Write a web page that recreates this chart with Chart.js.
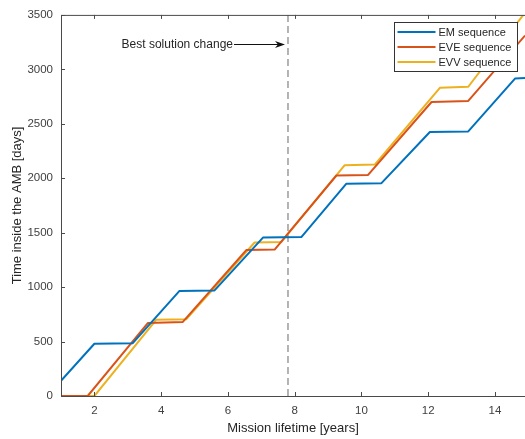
<!DOCTYPE html>
<html>
<head>
<meta charset="utf-8">
<script src="https://cdn.jsdelivr.net/npm/chart.js@4/dist/chart.umd.min.js"></script>
<style>
	body { margin: 0; background: #fff; }
	canvas { display: block; }
</style>
</head>
<body>
<canvas id="my-chart" width="525" height="439"></canvas>
<script>
// DATA
const emYears = [1, 2.0, 3.15, 4.55, 5.6, 7.05, 8.2, 9.55, 10.6, 12.05, 13.2, 14.6, 14.9];
const emDays = [140, 480, 485, 965, 970, 1455, 1460, 1950, 1955, 2425, 2430, 2915, 2920];

const eveYears = [1, 1.8, 3.6, 4.65, 6.55, 7.4, 9.25, 10.2, 12.1, 13.2, 14.9];
const eveDays = [0, 0, 670, 680, 1340, 1345, 2025, 2030, 2700, 2710, 3310];

const evvYears = [1, 2.0, 3.85, 4.75, 6.8, 7.6, 9.5, 10.4, 12.35, 13.2, 14.85];
const evvDays = [0, 0, 700, 705, 1410, 1415, 2120, 2125, 2830, 2840, 3500];

const seriesLabels = ['EM sequence', 'EVE sequence', 'EVV sequence'];
const seriesColors = ['#0072BD', '#D95319', '#EDB120'];

const xTicks = [2, 4, 6, 8, 10, 12, 14];
const yTicks = [0, 500, 1000, 1500, 2000, 2500, 3000, 3500];

const changeYear = 7.8;
const noteText = 'Best solution change';

const FONT = "'Liberation Sans', Arial, sans-serif";

// BUILD POINTS FROM TWO ARRAYS
function toPoints(xs, ys) {
	return xs.map((x, i) => ({ x: x, y: ys[i] }));
}

// DRAW BOX, INWARD TICKS, ANNOTATION AND LEGEND
const axesDecor = {
	id: 'axesDecor',
	afterDatasetsDraw(chart) {
		const ctx = chart.ctx;
		const a = chart.chartArea;
		const x = chart.scales.x;
		const y = chart.scales.y;
		ctx.save();

		// axes lines
		ctx.strokeStyle = '#4a4a4a';
		ctx.lineWidth = 1;
		ctx.beginPath();
		ctx.moveTo(a.left + 0.5, a.top + 0.5);
		ctx.lineTo(a.right, a.top + 0.5);
		ctx.moveTo(a.left + 0.5, a.top);
		ctx.lineTo(a.left + 0.5, a.bottom + 0.5);
		ctx.lineTo(a.right, a.bottom + 0.5);
		ctx.stroke();

		// inward ticks
		ctx.beginPath();
		xTicks.forEach(v => {
			let px = Math.round(x.getPixelForValue(v)) + 0.5;
			ctx.moveTo(px, a.bottom);
			ctx.lineTo(px, a.bottom - 4);
			ctx.moveTo(px, a.top);
			ctx.lineTo(px, a.top + 4);
		});
		yTicks.forEach(v => {
			let py = Math.round(y.getPixelForValue(v)) + 0.5;
			ctx.moveTo(a.left, py);
			ctx.lineTo(a.left + 4, py);
		});
		ctx.stroke();

		// annotation with arrow
		let ny = Math.round(y.getPixelForValue(3230)) + 0.5;
		let tipX = x.getPixelForValue(changeYear) - 3;
		ctx.font = '12px ' + FONT;
		ctx.fillStyle = '#262626';
		ctx.textAlign = 'right';
		ctx.textBaseline = 'middle';
		let textEnd = tipX - 52;
		ctx.fillText(noteText, textEnd, ny);
		ctx.strokeStyle = '#111';
		ctx.beginPath();
		ctx.moveTo(textEnd + 1, ny);
		ctx.lineTo(tipX - 6, ny);
		ctx.stroke();
		ctx.fillStyle = '#111';
		ctx.beginPath();
		ctx.moveTo(tipX, ny);
		ctx.lineTo(tipX - 10, ny - 3.5);
		ctx.lineTo(tipX - 7, ny);
		ctx.lineTo(tipX - 10, ny + 3.5);
		ctx.closePath();
		ctx.fill();

		// legend box
		let lx = 394.5, ly = 22.5, lw = 123, lh = 49;
		ctx.fillStyle = '#fff';
		ctx.fillRect(lx, ly, lw, lh);
		ctx.strokeStyle = '#333';
		ctx.strokeRect(lx, ly, lw, lh);
		ctx.font = '11px ' + FONT;
		ctx.textAlign = 'left';
		seriesLabels.forEach((label, i) => {
			let rowY = ly + 9.5 + i * 15;
			ctx.strokeStyle = seriesColors[i];
			ctx.lineWidth = 2;
			ctx.beginPath();
			ctx.moveTo(lx + 3, rowY);
			ctx.lineTo(lx + 41, rowY);
			ctx.stroke();
			ctx.fillStyle = '#262626';
			ctx.fillText(label, lx + 44, rowY + 0.5);
		});

		ctx.restore();
	}
};

const datasets = [
	{ data: toPoints(emYears, emDays) },
	{ data: toPoints(eveYears, eveDays) },
	{ data: toPoints(evvYears, evvDays) },
].map((d, i) => ({
	label: seriesLabels[i],
	data: d.data,
	borderColor: seriesColors[i],
	backgroundColor: seriesColors[i],
	borderWidth: 2,
	pointRadius: 0,
	tension: 0,
	borderJoinStyle: 'round',
}));

// vertical dashed marker
datasets.push({
	label: 'change',
	data: [{ x: changeYear, y: 0 }, { x: changeYear, y: 3500 }],
	borderColor: '#8c8c8c',
	borderWidth: 1.3,
	borderDash: [7, 4],
	pointRadius: 0,
});

const ctx = document.getElementById('my-chart');
new Chart(ctx, {
	type: 'line',
	data: { datasets: datasets },
	options: {
		responsive: false,
		animation: false,
		layout: { padding: { top: 13, right: 0, left: 0, bottom: 0 } },
		plugins: {
			legend: { display: false },
			tooltip: { enabled: false },
		},
		scales: {
			x: {
				type: 'linear',
				min: 1,
				max: 14.9,
				afterBuildTicks: s => { s.ticks = xTicks.map(v => ({ value: v })); },
				afterFit: s => { s.height = 43; },
				grid: { display: false, drawTicks: false },
				border: { display: false },
				ticks: {
					padding: 8,
					color: '#404040',
					font: { family: FONT, size: 11.5 },
					callback: v => String(v),
				},
				title: {
					display: true,
					text: 'Mission lifetime [years]',
					color: '#262626',
					font: { family: FONT, size: 13 },
					padding: { top: 0, bottom: 3 },
				},
			},
			y: {
				min: 0,
				max: 3500,
				afterBuildTicks: s => { s.ticks = yTicks.map(v => ({ value: v })); },
				afterFit: s => { s.width = 61; },
				grid: { display: false, drawTicks: false },
				border: { display: false },
				ticks: {
					padding: 8,
					color: '#404040',
					font: { family: FONT, size: 11.5 },
					callback: v => String(v),
				},
				title: {
					display: true,
					text: 'Time inside the AMB [days]',
					color: '#262626',
					font: { family: FONT, size: 13 },
					padding: { top: 10, bottom: 0 },
				},
			},
		},
	},
	plugins: [axesDecor],
});
</script>
</body>
</html>
